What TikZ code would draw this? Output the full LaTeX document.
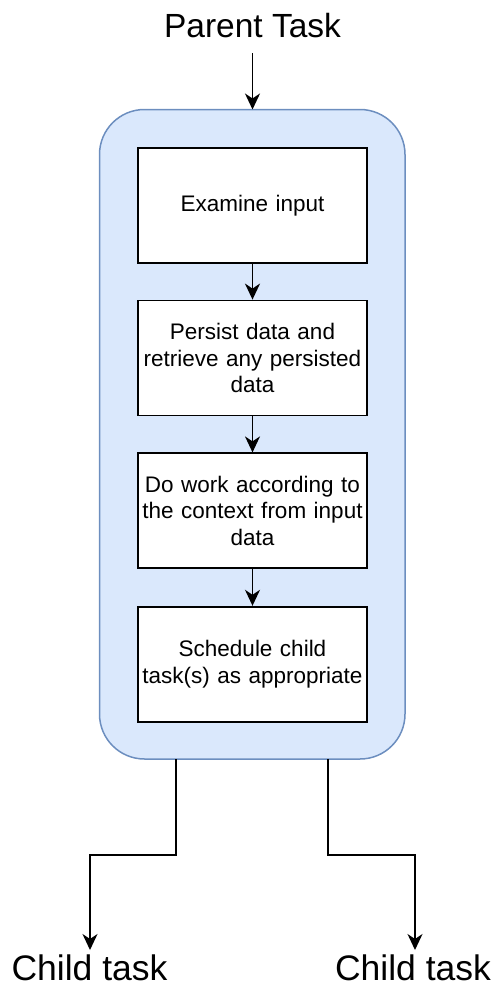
\documentclass[tikz,border=0pt]{standalone}
\usepackage{fontspec}
\setmainfont{Liberation Sans}
\usetikzlibrary{arrows.meta,positioning}
\definecolor{contfill}{HTML}{DAE8FC}
\definecolor{contdraw}{HTML}{6C8EBF}
\tikzset{
  container/.style={draw=contdraw, fill=contfill, line width=1.5pt, rounded corners=45pt},
  stepbox/.style={draw=black, fill=white, line width=1.8pt, minimum width=229.6pt, minimum height=115pt,
    align=center, text width=224pt, inner sep=0pt, font=\fontsize{22.5}{26.7}\selectfont},
  flow/.style={line width=1.8pt, -{Stealth[length=16pt,width=15pt,inset=5pt]}},
  link/.style={line width=1.8pt},
  bigtext/.style={inner sep=0pt, font=\fontsize{33.5}{40}\selectfont},
  childtext/.style={inner sep=0pt, font=\fontsize{35.5}{42}\selectfont},
}
\begin{document}
\begin{tikzpicture}[x=1pt,y=-1pt]
\useasboundingbox (0,0) rectangle (495,988);
\path[container] (99.5,109.5) rectangle (405,759);
\coordinate (ctop) at (252.5,109.5);
\node[stepbox] (b1) at (252.5,205.8) {Examine input};
\node[stepbox] (b2) at (252.5,358) {Persist data and\\retrieve any persisted\\data};
\node[stepbox] (b3) at (252.5,510.8) {Do work according to\\the context from input\\data};
\node[stepbox] (b4) at (252.5,664.2) {Schedule child\\task(s) as appropriate};
\node[bigtext, anchor=base] (parent) at (252.5,37) {Parent Task};
\node[childtext, anchor=base] (c1) at (89.5,980) {Child task};
\node[childtext, anchor=base] (c2) at (413,980) {Child task};
\coordinate (pbot) at (252.5,53);
\draw[flow] (pbot) -- (ctop);
\draw[flow] (b1) -- (b2);
\draw[flow] (b2) -- (b3);
\draw[flow] (b3) -- (b4);
\coordinate (l0) at (176,759);
\coordinate (l1) at (176,855);
\coordinate (l2) at (90,855);
\coordinate (l3) at (90,950);
\coordinate (r0) at (328.3,759);
\coordinate (r1) at (328.3,855);
\coordinate (r2) at (415,855);
\coordinate (r3) at (415,950);
\draw[flow] (l0) -- (l1) -- (l2) -- (l3);
\draw[flow] (r0) -- (r1) -- (r2) -- (r3);
\end{tikzpicture}
\end{document}
